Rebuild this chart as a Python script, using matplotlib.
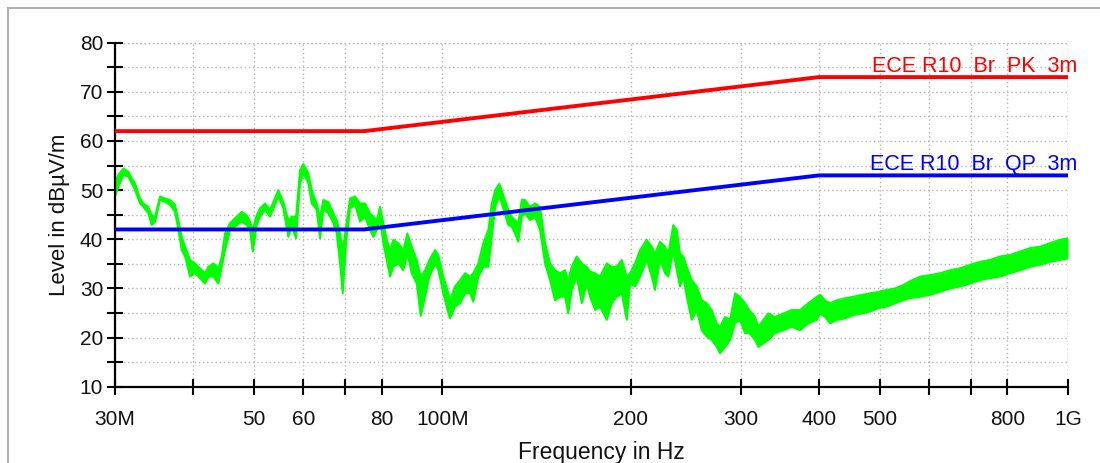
import matplotlib
matplotlib.use("Agg")
import matplotlib.pyplot as plt
from matplotlib.lines import Line2D
from matplotlib.ticker import FixedLocator, NullFormatter

plt.rcParams['font.family'] = ['Liberation Sans', 'DejaVu Sans']

# ---- data ----
freq_mhz = [30.00, 30.37, 30.93, 31.50, 31.90, 32.29, 32.89, 33.29, 33.91, 34.34, 34.76, 35.40, 36.06, 36.73,
            37.41, 37.87, 38.35, 38.82, 39.54, 40.27, 41.02, 41.78, 42.29, 43.08, 43.88, 44.43, 44.97, 45.81,
            46.66, 47.82, 48.71, 49.30, 49.80, 50.53, 51.15, 52.10, 53.07, 54.71, 55.73, 56.76, 57.48, 58.40,
            59.26, 59.99, 61.10, 61.87, 63.02, 63.79, 64.57, 65.77, 66.99, 67.83, 68.66, 69.35, 70.19, 71.23,
            72.56, 73.90, 75.27, 76.67, 77.61, 78.59, 79.55, 80.52, 81.53, 82.53, 83.53, 85.08, 86.66, 87.95,
            89.38, 91.04, 92.39, 93.87, 95.37, 97.39, 98.58, 100.4, 102.3, 102.9, 104.8, 106.8, 108.8, 110.8,
            112.1, 114.2, 116.3, 118.5, 120.0, 121.5, 123.4, 125.2, 127.5, 129.1, 130.7, 132.3, 134.0, 135.6,
            138.1, 140.7, 143.3, 146.0, 148.7, 151.4, 154.3, 157.1, 159.0, 161.0, 164.0, 167.1, 170.2, 172.3,
            175.5, 178.7, 183.2, 186.6, 190.0, 193.6, 197.2, 199.6, 203.3, 207.1, 212.2, 216.2, 218.8, 222.9,
            227.0, 229.8, 234.0, 237.0, 239.9, 242.8, 245.9, 250.4, 255.1, 259.8, 264.6, 269.6, 274.6, 277.9,
            283.1, 288.3, 293.7, 299.1, 304.7, 309.5, 316.1, 320.0, 325.9, 331.9, 340.2, 350.8, 361.8, 373.0,
            384.6, 396.7, 401.5, 409.0, 416.6, 427.0, 440.2, 453.8, 468.1, 482.6, 497.6, 513.2, 529.2, 545.6,
            557.7, 580.2, 601.9, 624.4, 647.8, 672.1, 697.2, 723.3, 750.4, 778.5, 807.7, 837.9, 869.3, 901.8,
            935.6, 970.6, 1000.0]
level_hi = [51.7, 53.1, 54.4, 53.8, 52.4, 51.4, 48.3, 47.3, 46.6, 44.9, 44.6, 48.7, 48.3, 48.0,
            47.0, 43.9, 40.5, 38.5, 35.8, 35.1, 34.1, 33.1, 34.4, 35.1, 34.1, 36.5, 41.2, 43.3,
            44.3, 45.6, 44.9, 43.6, 41.9, 44.9, 46.3, 47.3, 46.0, 50.0, 47.6, 43.9, 44.6, 44.6,
            54.1, 55.3, 53.4, 50.0, 47.3, 44.6, 48.0, 47.6, 45.3, 43.9, 41.2, 37.8, 42.6, 48.3,
            48.7, 47.3, 47.3, 45.3, 44.6, 43.9, 46.6, 43.3, 39.9, 37.8, 39.9, 39.2, 37.8, 41.2,
            38.5, 35.8, 32.4, 33.7, 35.8, 37.8, 36.8, 32.4, 29.0, 27.6, 30.4, 31.7, 33.1, 32.4,
            33.1, 35.1, 39.2, 41.9, 47.3, 50.0, 51.3, 49.0, 46.0, 44.6, 43.9, 43.3, 48.0, 48.0,
            46.6, 47.3, 46.6, 39.2, 35.1, 33.7, 33.1, 33.7, 31.7, 34.4, 36.5, 35.1, 34.4, 33.4,
            33.1, 32.4, 35.1, 34.4, 34.4, 35.8, 32.4, 33.1, 35.1, 37.8, 39.9, 38.5, 37.1, 39.5,
            38.5, 37.1, 42.9, 41.9, 37.1, 36.5, 34.4, 31.7, 30.4, 27.6, 27.0, 25.6, 22.9, 22.2,
            24.2, 23.6, 29.0, 28.3, 27.0, 25.6, 24.2, 22.2, 23.6, 24.9, 24.2, 24.9, 25.6, 25.6,
            27.0, 28.3, 28.7, 27.6, 27.0, 27.6, 28.0, 28.3, 28.7, 29.0, 29.3, 29.7, 30.0, 30.7,
            31.4, 32.4, 32.7, 33.1, 33.7, 34.1, 34.8, 35.4, 35.8, 36.5, 36.8, 37.5, 38.2, 38.5,
            39.2, 39.9, 40.2]
level_lo = [48.7, 50.7, 53.1, 52.7, 51.4, 50.0, 47.3, 46.6, 45.3, 42.9, 43.6, 48.0, 47.6, 47.0,
            45.6, 41.9, 37.8, 36.5, 32.4, 33.1, 32.1, 31.0, 32.4, 32.4, 31.0, 34.4, 37.8, 41.9,
            42.6, 43.6, 42.9, 41.9, 37.5, 42.9, 44.6, 46.0, 44.6, 48.7, 46.3, 40.5, 42.6, 40.2,
            51.4, 53.4, 51.4, 47.3, 46.0, 40.2, 46.0, 45.3, 43.3, 41.2, 35.1, 29.0, 39.2, 46.3,
            47.0, 43.6, 44.6, 41.9, 40.5, 41.9, 43.9, 39.2, 35.8, 32.4, 34.4, 35.1, 33.7, 37.1,
            33.1, 31.0, 24.4, 28.3, 32.4, 35.1, 33.7, 29.0, 24.9, 23.9, 26.3, 27.0, 29.0, 29.0,
            27.3, 32.4, 34.4, 34.4, 40.5, 46.6, 48.7, 46.3, 42.9, 42.6, 41.2, 39.5, 44.6, 45.3,
            43.9, 44.6, 41.9, 35.1, 31.7, 27.6, 28.3, 28.3, 24.9, 29.7, 32.4, 27.0, 31.0, 28.3,
            25.6, 26.3, 23.6, 27.0, 28.3, 29.0, 23.6, 31.0, 30.4, 32.4, 35.8, 32.4, 29.7, 35.8,
            33.1, 32.4, 37.8, 33.7, 30.4, 32.4, 28.3, 23.6, 25.6, 21.5, 20.2, 19.5, 18.1, 16.8,
            18.1, 19.5, 22.9, 23.6, 20.9, 20.9, 19.5, 18.1, 18.8, 19.5, 20.9, 21.5, 22.2, 21.5,
            22.9, 23.6, 24.9, 24.2, 22.9, 23.6, 23.9, 24.6, 24.9, 25.3, 26.0, 26.3, 27.0, 27.6,
            28.0, 28.3, 28.7, 29.3, 30.0, 30.4, 31.0, 31.7, 32.1, 32.4, 33.1, 33.7, 34.4, 34.8,
            35.4, 35.8, 36.1]

limit_freq = [30, 75, 400, 1000]
limit_pk = [62, 62, 73, 73]
limit_qp = [42, 42, 53, 53]
pk_label = "ECE R10  Br  PK  3m"
qp_label = "ECE R10  Br  QP  3m"

xtick_vals = [30, 40, 50, 60, 70, 80, 100, 200, 300, 400, 500, 600, 700, 800, 1000]
xtick_labels = ['30M', '', '50', '60', '', '80', '100M', '200', '300', '400', '500', '', '', '800', '1G']
ytick_major = [10, 20, 30, 40, 50, 60, 70, 80]
ytick_minor = [15, 25, 35, 45, 55, 65, 75]

# ---- figure ----
W, H = 1100, 463
fig = plt.figure(figsize=(W / 100, H / 100), dpi=100)
ax = fig.add_axes([115 / W, 1 - 386.7 / H, (1068 - 115) / W, (386.7 - 42.7) / H])

ax.set_xscale('log')
ax.set_xlim(30, 1000)
ax.set_ylim(10, 80)

green = '#00ff00'
ax.fill_between(freq_mhz, level_lo, level_hi, color=green, lw=0, zorder=2)
ax.plot(freq_mhz, level_hi, color=green, lw=1.4, zorder=2)
ax.plot(freq_mhz, level_lo, color=green, lw=1.4, zorder=2)

ax.plot(limit_freq, limit_qp, color='#0000ff', lw=2.8, zorder=3, solid_capstyle='butt')
ax.plot(limit_freq, limit_pk, color='#ff0000', lw=2.8, zorder=3, solid_capstyle='butt')

ax.annotate(pk_label, xy=(1000, limit_pk[-1]), xytext=(9, 5), textcoords='offset pixels',
            ha='right', va='baseline', color='#ff0000', fontsize=15.5)
ax.annotate(qp_label, xy=(1000, limit_qp[-1]), xytext=(9, 5), textcoords='offset pixels',
            ha='right', va='baseline', color='#0000ff', fontsize=15.5)

# ticks
ax.xaxis.set_major_locator(FixedLocator(xtick_vals))
ax.set_xticklabels(xtick_labels)
ax.xaxis.set_minor_formatter(NullFormatter())
ax.xaxis.set_minor_locator(FixedLocator([]))
ax.set_yticks(ytick_major)
ax.set_yticks(ytick_minor, minor=True)

ax.tick_params(axis='both', which='both', direction='inout', length=11, width=1.5, color='black',
               labelsize=15, labelcolor='#111111')
ax.tick_params(axis='x', which='major', pad=11)
ax.tick_params(axis='y', which='both', pad=3)

for s in ['top', 'right']:
    ax.spines[s].set_visible(False)
for s in ['left', 'bottom']:
    ax.spines[s].set_linewidth(1.6)
    ax.spines[s].set_color('black')

ax.set_axisbelow(True)
grid_kw = dict(color='#b5b5b5', linestyle=(0, (1, 2)), linewidth=1.0)
ax.grid(True, which='major', axis='x', **grid_kw)
ax.grid(True, which='both', axis='y', **grid_kw)
ax.axhline(80, zorder=0.5, **grid_kw)
ax.axvline(1000, zorder=0.5, **grid_kw)

fig.text(601 / W, 4 / H, 'Frequency in Hz', ha='center', va='baseline', fontsize=16.5, color='#111111')
fig.text(59 / W, 1 - 215 / H, 'Level in dBµV/m', ha='center', va='center', rotation=90,
         fontsize=16, color='#111111')

# panel border (top and left)
fig.add_artist(Line2D([7.5 / W, 1], [1 - 7.5 / H, 1 - 7.5 / H], color='#b0b0b0', lw=1.5,
                      transform=fig.transFigure))
fig.add_artist(Line2D([7.5 / W, 7.5 / W], [0, 1 - 7.5 / H], color='#b0b0b0', lw=1.5,
                      transform=fig.transFigure))

fig.savefig('out.png', dpi=100)
